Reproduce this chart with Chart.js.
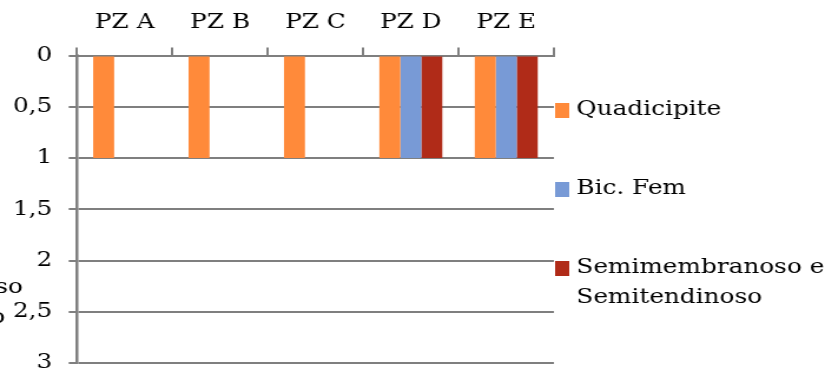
<!DOCTYPE html>
<html><head><meta charset="utf-8">
<script src="https://cdn.jsdelivr.net/npm/chart.js@4"></script>
<style>
html,body{margin:0;padding:0;background:#fff;overflow:hidden;}
#wrap{width:700px;height:373px;transform:scaleX(1.17857);transform-origin:0 0;}
canvas{display:block;}
</style></head><body>
<div id="wrap"><canvas id="c" width="700" height="373"></canvas></div>
<script>
// Patients and muscle groups
const categories = ['PZ A', 'PZ B', 'PZ C', 'PZ D', 'PZ E'];
const quadicipite = [1, 1, 1, 1, 1];
const bicFem = [0, 0, 0, 1, 1];
const semimembranoso = [0, 0, 0, 1, 1];
const seriesNames = ['Quadicipite', 'Bic. Fem', 'Semimembranoso e Semitendinoso'];
const yTickValues = [0, 0.5, 1, 1.5, 2, 2.5, 3];
const axisTitleLines = ['Indolenzimento diffuso', 'percepito'];

const FONT = '"DejaVu Serif", "Liberation Serif", serif';
const FONT_SIZE = 21;
const GRID = '#7f7f7f';
const colors = ['#ff8a3a', '#789ad6', '#b02b18'];

// Legend on the right, with word wrap for long names
const sideLegend = {
  id: 'sideLegend',
  afterDraw(chart) {
    const ctx = chart.ctx;
    ctx.save();
    ctx.font = FONT_SIZE + 'px ' + FONT;
    ctx.textBaseline = 'middle';
    ctx.textAlign = 'left';
    const boxX = chart.chartArea.right + 1;
    const textX = boxX + 18;
    const maxW = chart.width - textX;
    const starts = [110, 189, 268];
    chart.data.datasets.forEach((ds, i) => {
      const y = starts[i];
      ctx.fillStyle = ds.backgroundColor;
      ctx.fillRect(boxX, y - 7, 12, 15);
      const words = ds.label.split(' ');
      const lines = [];
      let cur = '';
      words.forEach(w => {
        const t = cur ? cur + ' ' + w : w;
        if (ctx.measureText(t).width > maxW && cur) { lines.push(cur); cur = w; }
        else cur = t;
      });
      if (cur) lines.push(cur);
      ctx.fillStyle = '#000';
      lines.forEach((ln, k) => ctx.fillText(ln, textX, y + k * 30));
    });
    ctx.restore();
  }
};

// Horizontal value-axis title at the far left
const leftTitle = {
  id: 'leftTitle',
  afterDraw(chart) {
    const ctx = chart.ctx;
    ctx.save();
    ctx.font = FONT_SIZE + 'px ' + FONT;
    ctx.textBaseline = 'middle';
    ctx.textAlign = 'right';
    ctx.fillStyle = '#000';
    ctx.fillText(axisTitleLines[0], 19.5, 288);
    ctx.fillText(axisTitleLines[1], 4.5, 318);
    ctx.restore();
  }
};

new Chart(document.getElementById('c'), {
  type: 'bar',
  data: {
    labels: categories,
    datasets: [
      { label: seriesNames[0], data: quadicipite, backgroundColor: colors[0] },
      { label: seriesNames[1], data: bicFem, backgroundColor: colors[1] },
      { label: seriesNames[2], data: semimembranoso, backgroundColor: colors[2] }
    ]
  },
  options: {
    responsive: false,
    animation: false,
    devicePixelRatio: 1,
    datasets: { bar: { categoryPercentage: 0.66, barPercentage: 1.0, borderWidth: 0 } },
    layout: { padding: { left: 12, right: 230, top: 0, bottom: 0 } },
    plugins: { legend: { display: false }, tooltip: { enabled: false } },
    scales: {
      x: {
        position: 'top',
        afterFit(scale) { scale.height = 55.5; },
        grid: { offset: true, drawOnChartArea: false, drawTicks: true, tickLength: 8, color: GRID, lineWidth: 2 },
        border: { color: GRID, width: 2 },
        ticks: { color: '#000', font: { family: FONT, size: FONT_SIZE }, padding: 12, maxRotation: 0 }
      },
      y: {
        reverse: true,
        min: 0,
        max: 3,
        afterFit(scale) { scale.width = 53.3; scale.paddingTop = 0; scale.paddingBottom = 10; },
        afterBuildTicks(scale) { scale.ticks = yTickValues.map(v => ({ value: v })); },
        grid: { color: GRID, lineWidth: 2, drawTicks: true, tickLength: 7 },
        border: { color: GRID, width: 2.5 },
        ticks: {
          color: '#000', font: { family: FONT, size: FONT_SIZE }, padding: 14,
          callback: v => String(v).replace('.', ',')
        }
      }
    }
  },
  plugins: [sideLegend, leftTitle]
});
</script>
</body></html>
